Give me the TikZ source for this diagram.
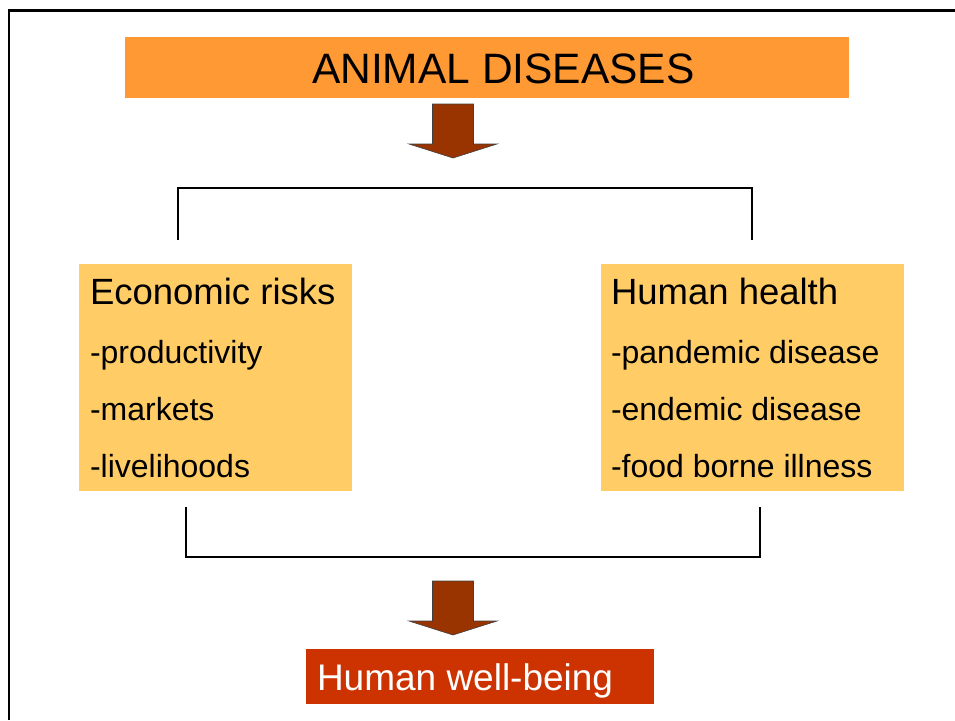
\documentclass[tikz,border=0pt]{standalone}
\usepackage{fontspec}
\setmainfont{Liberation Sans}
\usetikzlibrary{calc}
\definecolor{titleorange}{HTML}{FF9933}
\definecolor{boxyellow}{HTML}{FFCC66}
\definecolor{arrowbrown}{HTML}{993300}
\definecolor{wellred}{HTML}{CC3300}

\begin{document}
\begin{tikzpicture}[x=1pt,y=-1pt,
  box/.style={anchor=north west, inner sep=0, outer sep=0},
  word/.style={anchor=base west, inner sep=0, outer sep=0},
  headtext/.style={word, font=\fontsize{36.5}{38}\selectfont},
  itemtext/.style={word, font=\fontsize{32}{34}\selectfont},
  bracket/.style={line width=1.5pt}]
\useasboundingbox (0,0) rectangle (955,720);
% Draw frame
\draw[line width=2.5pt] (9,720) -- (9,10.5) -- (955,10.5);
% Title
\node[box, fill=titleorange, minimum width=724pt, minimum height=61pt] (titlebox) at (125,37) {};
\node[word, font=\fontsize{42.5}{44}\selectfont] (title) at (312,83) {ANIMAL DISEASES};
% Draw block arrows
\foreach \y in {104,581}
  \filldraw[fill=arrowbrown, draw=black!75, line width=0.6pt]
    (432.5,\y) -- (473.5,\y) -- (473.5,\y+40) -- (497,\y+40) -- (453,\y+54)
    -- (409,\y+40) -- (432.5,\y+40) -- cycle;
% Split bracket
\coordinate (split-l) at (178,240);
\coordinate (split-top) at (465,188);
\coordinate (split-r) at (752,240);
\draw[bracket] (split-l) |- (split-top) -| (split-r);
% Economic risks box
\node[box, fill=boxyellow, minimum width=273pt, minimum height=227pt] (econ) at (79,264) {};
\node[headtext] (econ-head) at (90,304) {Economic risks};
\foreach \txt [count=\i] in {-productivity,-markets,-livelihoods}
  \node[itemtext] (econ-\i) at (90,306+57*\i) {\txt};
% Human health box
\node[box, fill=boxyellow, minimum width=303pt, minimum height=227pt] (health) at (601,264) {};
\node[headtext] (health-head) at (611,304) {Human health};
\foreach \txt [count=\i] in {-pandemic disease,-endemic disease,-food borne illness}
  \node[itemtext] (health-\i) at (611,306+57*\i) {\txt};
% Join bracket
\coordinate (join-l) at (186,507);
\coordinate (join-bot) at (473,557);
\coordinate (join-r) at (760,507);
\draw[bracket] (join-l) |- (join-bot) -| (join-r);
% Human well-being
\node[box, fill=wellred, minimum width=348pt, minimum height=55pt] (wellbox) at (306,649) {};
\node[word, text=white, font=\fontsize{37}{39}\selectfont] (well) at (317,690) {Human well-being};
\end{tikzpicture}
\end{document}
